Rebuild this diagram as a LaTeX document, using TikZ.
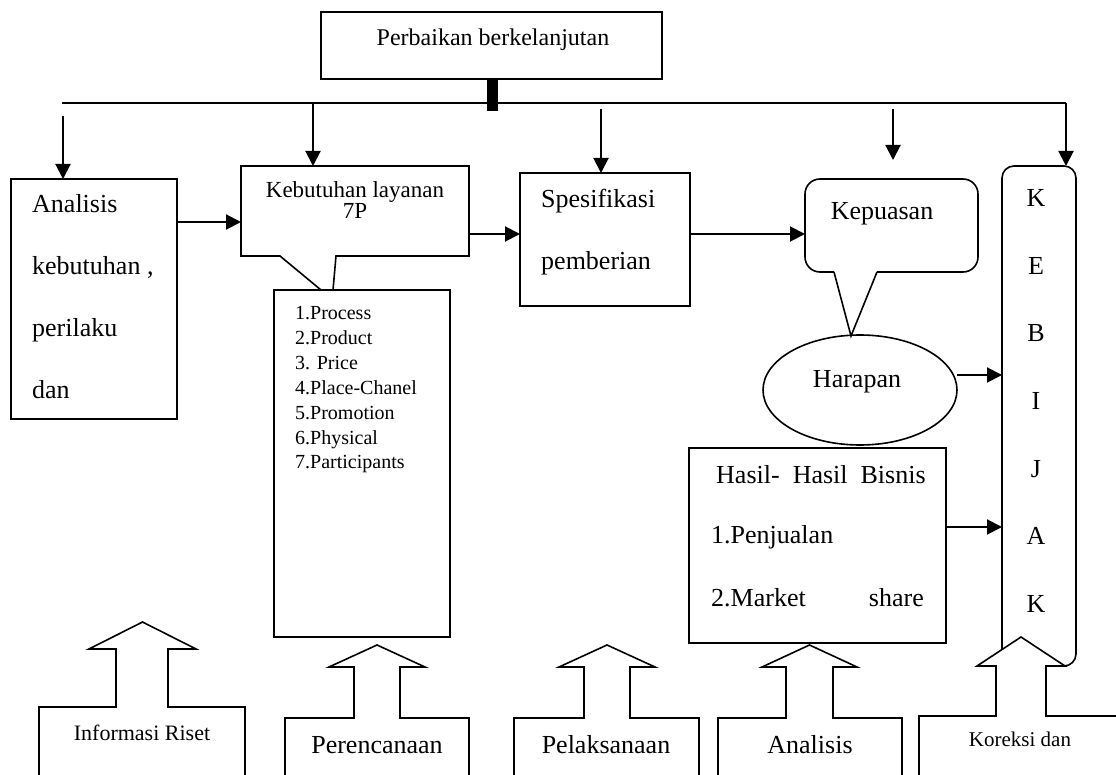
\documentclass[tikz,border=0pt]{standalone}
\usepackage{fontspec}
\setmainfont{Liberation Serif}
\usetikzlibrary{arrows.meta,shapes.geometric,calc}
\newcommand\fsz[1]{\fontsize{#1}{#1}\selectfont}
\newcommand\uparr[9]{\draw[shp, fill=white, line join=miter] (#1,790) -- (#1,#3) -- (#4,#3) -- (#4,#6) -- (#7,#6) -- ({(#7+#8)/2},#9) -- (#8,#6) -- (#5,#6) -- (#5,#3) -- (#2,#3) -- (#2,790) -- cycle;}
\begin{document}
\begin{tikzpicture}[x=1pt,y=-1pt,
  shp/.style={draw, line width=1.6pt},
  box/.style={shp, rectangle, anchor=north west, inner sep=0pt, outer sep=0pt},
  arr/.style={line width=2pt, -{Triangle[length=15pt,width=15pt]}},
  txt/.style={inner sep=0pt, font=\fsz{26}}]
\useasboundingbox (0,0) rectangle (1116,775);
\clip (0,0) rectangle (1116,775);

% top box and bus
\node[box, minimum width=341pt, minimum height=67pt] (perb) at (321,12) {};
\node[txt, font=\fsz{24}, anchor=base] (perbT) at (493,46) {Perbaikan berkelanjutan};
\node[fill, rectangle, anchor=north west, inner sep=0pt, minimum width=11pt, minimum height=31pt] (blk) at (487,80) {};
\coordinate (busL) at (62,103);
\coordinate (busR) at (1066,103);

% Analisis box
\node[box, minimum width=166pt, minimum height=240pt] (anal) at (11,179) {};
\node[txt, anchor=base west] (an1) at (32,213) {Analisis};
\node[txt, anchor=base west] (an2) at (32,275) {kebutuhan ,};
\node[txt, anchor=base west] (an3) at (32,337) {perilaku};
\node[txt, anchor=base west] (an4) at (32,398) {dan};

% Kebutuhan callout
\node[rectangle, anchor=north west, inner sep=0pt, outer sep=0pt, minimum width=228pt, minimum height=90pt] (keb) at (241,166) {};
\draw[shp, line join=miter] (333,290) -- (336,256) -- (keb.south east) -- (keb.north east) -- (keb.north west) -- (keb.south west) -- (280,256) -- (321,290);
\node[txt, font=\fsz{23}, anchor=base] (kebT1) at (355,198) {Kebutuhan layanan};
\node[txt, font=\fsz{23}, anchor=base] (kebT2) at (355,219) {7P};

% list box
\node[box, minimum width=176pt, minimum height=347pt] (list) at (274,290) {};
\foreach \t [count=\i] in {1.Process,2.Product,3. Price,4.Place-Chanel,5.Promotion,6.Physical,7.Participants}
  \node[txt, font=\fsz{20}, anchor=base west] (li\i) at (295,{320+24.8*(\i-1)}) {\t};

% Spesifikasi
\node[box, minimum width=170pt, minimum height=133pt] (spes) at (520,173) {};
\node[txt, anchor=base west] (sp1) at (541,208) {Spesifikasi};
\node[txt, anchor=base west] (sp2) at (541,270) {pemberian};

% Kepuasan callout
\node[rectangle, anchor=north west, inner sep=0pt, outer sep=0pt, minimum width=173pt, minimum height=93pt] (kep) at (805,179) {};
\draw[shp, rounded corners=15pt] (834,272) -- (kep.south west) -- (kep.north west) -- (kep.north east) -- (kep.south east) -- (877,272);
\draw[shp, line join=miter] (834,272) -- (851,336) -- (877,272);
\node[txt, anchor=base] (kepT) at (882,220) {Kepuasan};

% Harapan
\node[shp, ellipse, inner sep=0pt, minimum width=194pt, minimum height=110pt] (har) at (860,390) {};
\node[txt, anchor=base] (harT) at (857,387) {Harapan};

% Hasil
\node[box, minimum width=257pt, minimum height=195pt] (hasil) at (689,448) {};
\node[txt, anchor=base west] (ha1) at (716,483) {Hasil-\ \ Hasil\ \ Bisnis};
\node[txt, anchor=base west] (ha2) at (711,543) {1.Penjualan};
\node[txt, anchor=base west] (ha3) at (711,606) {2.Market};
\node[txt, anchor=base east] (ha4) at (924,606) {share};

% KEBIJAK
\node[shp, rectangle, rounded corners=12pt, anchor=north west, inner sep=0pt, outer sep=0pt, minimum width=74pt, minimum height=500pt] (kebij) at (1002,166) {};
\foreach \l [count=\i] in {K,E,B,I,J,A,K}
  \node[txt, anchor=base] (kl\i) at (1036,{207+67.5*(\i-1)}) {\l};

% bus and drop arrows
\draw[line width=2pt] (busL) -- (busR);
\draw[arr] (busR) -- (busR |- kebij.north);
\coordinate (d1) at (63,116);
\draw[arr] (d1) -- (d1 |- anal.north);
\coordinate (d2) at (313,103);
\draw[arr] (d2) -- (d2 |- keb.north);
\coordinate (d3) at (601,109);
\draw[arr] (d3) -- (d3 |- spes.north);
\coordinate (d4) at (893,109);
\coordinate (e4) at (893,160);
\draw[arr] (d4) -- (e4);

% flow arrows
\coordinate (f1) at (177,222);
\draw[arr] (f1) -- (f1 -| keb.west);
\coordinate (f2) at (469,234);
\draw[arr] (f2) -- (f2 -| spes.west);
\coordinate (f3) at (690,234);
\draw[arr] (f3) -- (f3 -| kep.west);
\coordinate (f4) at (957,375);
\draw[arr] (f4) -- (f4 -| kebij.west);
\coordinate (f5) at (946,527);
\draw[arr] (f5) -- (f5 -| kebij.west);

% bottom block arrows
\uparr{39}{245}{707}{116}{168}{649}{89}{196}{622}
\node[txt, font=\fsz{22}, anchor=base] (u1) at (142,740) {Informasi Riset};
\uparr{285}{469}{718}{354}{400}{667}{329}{425}{645}
\node[txt, anchor=base] (u2) at (377,753) {Perencanaan};
\uparr{514}{699}{718}{584}{630}{667}{559}{655}{645}
\node[txt, anchor=base] (u3) at (606,753) {Pelaksanaan};
\uparr{718}{902}{718}{786}{833}{667}{762}{857}{645}
\node[txt, anchor=base] (u4) at (810,753) {Analisis};
\uparr{919}{1140}{716}{996}{1046}{666}{977}{1065}{637}
\node[txt, font=\fsz{21}, anchor=base] (u5) at (1020,746) {Koreksi dan};
\end{tikzpicture}
\end{document}
